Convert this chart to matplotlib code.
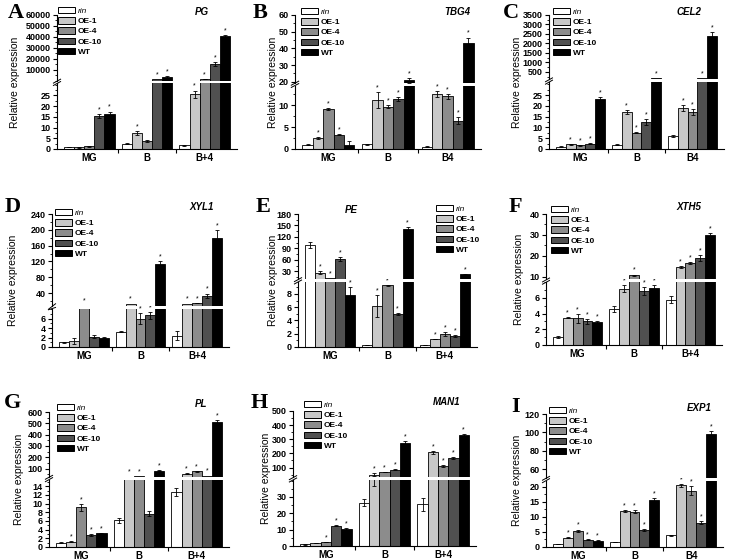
import matplotlib
matplotlib.use('Agg')
from matplotlib import pyplot as plt
from matplotlib.patches import Patch
from matplotlib.ticker import AutoMinorLocator, FixedLocator
import numpy as np

plt.rcParams['font.family'] = ['Liberation Sans', 'DejaVu Sans']

series = ['rin', 'OE-1', 'OE-4', 'OE-10', 'WT']
colors = ['white', '#c8c8c8', '#8c8c8c', '#505050', 'black']
groups_plus = ['MG', 'B', 'B+4']
groups_b4 = ['MG', 'B', 'B4']

# rows = rin, OE-1, OE-4, OE-10, WT ; columns = MG, B, B+4 (B4)
pg_vals = [[1.0, 2.5, 1.8], [0.8, 7.5, 25.5], [1.2, 3.8, 1500], [15.5, 1000, 15000], [16.2, 3000, 40500]]
pg_err = [[0.1, 0.2, 0.2], [0.1, 1.0, 1.8], [0.1, 0.5, 100], [0.8, 100, 1800], [1.3, 800, 1500]]
pg_star = [[0, 0, 0], [0, 1, 1], [0, 0, 1], [1, 1, 1], [1, 1, 1]]

tbg4_vals = [[1.0, 1.1, 0.5], [2.5, 11.2, 12.6], [9.1, 9.7, 12.0], [3.3, 11.4, 6.5], [0.8, 20.8, 43.5]]
tbg4_err = [[0.1, 0.1, 0.1], [0.15, 1.9, 0.7], [0.15, 0.3, 0.6], [0.15, 0.5, 0.7], [1.0, 1.5, 3.0]]
tbg4_star = [[0, 0, 0], [1, 1, 1], [1, 1, 1], [1, 1, 1], [0, 1, 1]]

cel2_vals = [[1.0, 2.0, 6.0], [2.2, 17.2, 19.0], [1.8, 7.5, 17.2], [2.5, 12.5, 150], [23.0, 170, 2380]]
cel2_err = [[0.2, 0.1, 0.3], [0.2, 0.8, 1.2], [0.2, 0.2, 1.5], [0.2, 1.3, 10], [1.0, 10, 200]]
cel2_star = [[0, 0, 0], [1, 1, 1], [1, 1, 1], [1, 1, 1], [1, 1, 1]]

xyl1_vals = [[1.0, 3.2, 2.4], [1.3, 13, 13], [9.5, 6.0, 15], [2.2, 6.7, 33], [2.0, 113, 180]]
xyl1_err = [[0.1, 0.1, 1.0], [0.6, 1, 1], [0.3, 1.2, 1], [0.3, 0.7, 6], [0.1, 7, 20]]
xyl1_star = [[0, 0, 0], [0, 1, 1], [1, 1, 1], [0, 1, 1], [0, 1, 1]]

pe_vals = [[100, 0.3, 0.3], [27, 6.2, 1.2], [12, 9.3, 1.9], [62, 5.0, 1.6], [7.8, 142, 22]]
pe_err = [[8, 0.05, 0.05], [3, 1.7, 0.05], [0.5, 0.1, 0.3], [6, 0.1, 0.15], [1.2, 5, 2]]
pe_star = [[0, 0, 0], [1, 1, 1], [1, 1, 1], [1, 1, 1], [1, 1, 1]]

xth5_vals = [[1.0, 4.6, 5.8], [3.5, 7.2, 14.5], [3.4, 10.6, 16.5], [3.0, 6.9, 19.0], [2.9, 7.3, 29.8]]
xth5_err = [[0.1, 0.35, 0.4], [0.1, 0.4, 0.4], [0.6, 0.4, 0.5], [0.35, 0.5, 1.5], [0.1, 0.4, 1.0]]
xth5_star = [[0, 0, 0], [1, 1, 1], [1, 1, 1], [1, 1, 1], [1, 1, 1]]

pl_vals = [[1.0, 6.1, 12.7], [1.2, 30, 55], [9.1, 32, 75], [2.7, 7.7, 37], [3.2, 80, 510]]
pl_err = [[0.1, 0.5, 0.9], [0.15, 2, 3], [0.7, 2, 3], [0.2, 0.5, 2], [0.1, 4, 20]]
pl_star = [[0, 0, 0], [1, 1, 1], [1, 1, 1], [1, 0, 1], [1, 1, 1]]

man1_vals = [[1.0, 26.5, 25.5], [1.8, 49, 208], [2.5, 68, 110], [12.3, 86, 165], [10.5, 272, 330]]
man1_err = [[0.1, 2.3, 4], [0.1, 12, 10], [0.2, 3, 8], [0.3, 5, 8], [0.4, 15, 5]]
man1_star = [[0, 0, 0], [0, 1, 1], [1, 1, 1], [1, 1, 1], [1, 1, 1]]

exp1_vals = [[1.0, 1.6, 3.9], [3.1, 11.9, 20.4], [5.4, 11.7, 18.6], [2.4, 5.7, 8.1], [2.1, 15.5, 98]]
exp1_err = [[0.05, 0.1, 0.1], [0.2, 0.3, 0.5], [0.4, 0.5, 1.5], [0.1, 0.3, 0.5], [0.1, 0.8, 4]]
exp1_star = [[0, 0, 0], [1, 1, 1], [1, 1, 1], [1, 1, 1], [1, 1, 1]]

W, H = 729, 560

# layout, all in pixels of the output image
panels = [
    dict(letter='A', gene='PG', vals=pg_vals, err=pg_err, star=pg_star, groups=groups_plus,
         box=(57, 237, 15, 149), split=0.50, lo=(0, 30.6), hi=(0, 60000),
         lo_ticks=[0, 5, 10, 15, 20, 25], hi_ticks=range(10000, 60001, 10000),
         leg=(58, 7), title=(202, 12), let=(8, 13), ylab=15),
    dict(letter='B', gene='TBG4', vals=tbg4_vals, err=tbg4_err, star=tbg4_star, groups=groups_b4,
         box=(295, 481, 15, 149), split=0.485, lo=(0, 14.5), hi=(19.5, 60),
         lo_ticks=[0, 5, 10], hi_ticks=range(20, 61, 10),
         leg=(301, 8), title=(457, 12), let=(253, 13), ylab=273),
    dict(letter='C', gene='CEL2', vals=cel2_vals, err=cel2_err, star=cel2_star, groups=groups_b4,
         box=(549, 724, 15, 149), split=0.51, lo=(0, 31), hi=(115, 3500),
         lo_ticks=[0, 5, 10, 15, 20, 25], hi_ticks=range(500, 3501, 500),
         leg=(553, 8), title=(689, 12), let=(503, 13), ylab=517),
    dict(letter='D', gene='XYL1', vals=xyl1_vals, err=xyl1_err, star=xyl1_star, groups=groups_plus,
         box=(52, 229, 214, 347), split=0.30, lo=(0, 8.1), hi=(8.5, 240),
         lo_ticks=[0, 2, 4, 6], hi_ticks=range(40, 241, 40),
         leg=(55, 209), title=(202, 207), let=(5, 207), ylab=13),
    dict(letter='E', gene='PE', vals=pe_vals, err=pe_err, star=pe_star, groups=groups_plus,
         box=(298, 477, 214, 347), split=0.50, lo=(0, 9.8), hi=(10, 180),
         lo_ticks=[0, 2, 4, 6, 8], hi_ticks=range(30, 181, 30),
         leg=(436, 205), title=(351, 210), let=(256, 207), ylab=273),
    dict(letter='F', gene='XTH5', vals=xth5_vals, err=xth5_err, star=xth5_star, groups=groups_plus,
         box=(546, 722, 214, 345), split=0.49, lo=(0, 8), hi=(8.7, 40),
         lo_ticks=[0, 2, 4, 6], hi_ticks=range(10, 41, 10),
         leg=(551, 206), title=(689, 207), let=(509, 207), ylab=519),
    dict(letter='G', gene='PL', vals=pl_vals, err=pl_err, star=pl_star, groups=groups_plus,
         box=(49, 229, 412, 547), split=0.51, lo=(0, 15.5), hi=(28, 600),
         lo_ticks=[0, 2, 4, 6, 8, 10, 12, 14], hi_ticks=range(100, 601, 100),
         leg=(57, 404), title=(201, 404), let=(4, 403), ylab=19),
    dict(letter='H', gene='MAN1', vals=man1_vals, err=man1_err, star=man1_star, groups=groups_plus,
         box=(293, 476, 411, 546), split=0.50, lo=(0, 40.4), hi=(33, 500),
         lo_ticks=[0, 10, 20, 30], hi_ticks=range(100, 501, 100),
         leg=(304, 401), title=(447, 402), let=(251, 403), ylab=266),
    dict(letter='I', gene='EXP1', vals=exp1_vals, err=exp1_err, star=exp1_star, groups=groups_b4,
         box=(546, 723, 414, 547), split=0.51, lo=(0, 22), hi=(51, 120),
         lo_ticks=[0, 5, 10, 15, 20], hi_ticks=range(60, 121, 20),
         leg=(549, 407), title=(699, 408), let=(511, 407), ylab=517),
]


def style_axis(ax):
    ax.spines['top'].set_visible(False)
    ax.spines['right'].set_visible(False)
    for s in ax.spines.values():
        s.set_linewidth(0.8)
    ax.tick_params(axis='y', direction='out', length=3, width=0.8, labelsize=6.5, pad=1.5)
    ax.tick_params(axis='y', which='minor', length=1.5, width=0.6)
    for lab in ax.get_yticklabels():
        lab.set_fontweight('bold')


def draw_panel(fig, p):
    x0, x1, y0, y1 = p['box']
    total = y1 - y0
    gap = 3
    hb = total * p['split'] - gap / 2
    ht = total * (1 - p['split']) - gap / 2
    ax_b = fig.add_axes([x0 / W, 1 - y1 / H, (x1 - x0) / W, hb / H])
    ax_t = fig.add_axes([x0 / W, 1 - (y0 + ht) / H, (x1 - x0) / W, ht / H])

    x = np.arange(3)
    bw = 0.175
    lo_max = p['lo'][1]
    hi_min, hi_max = p['hi']
    span = hi_max - hi_min
    # bars in the upper segment start well below its lower limit so no edge shows
    base = hi_min - span
    for i in range(5):
        xs = x + (i - 2) * bw
        v = np.array(p['vals'][i], dtype=float)
        e = np.array(p['err'][i], dtype=float)
        ax_b.bar(xs, v, bw, color=colors[i], edgecolor='black', linewidth=0.6, zorder=2)
        ax_b.errorbar(xs, v, yerr=e, fmt='none', ecolor='black', elinewidth=0.6,
                      capsize=1.5, capthick=0.6, zorder=3)
        up = v > hi_min + 0.005 * span
        if up.any():
            ax_t.bar(xs[up], v[up] - base, bw, bottom=base, color=colors[i],
                     edgecolor='black', linewidth=0.6, zorder=2)
        show_err = v > hi_min + 0.02 * span
        if show_err.any():
            ax_t.errorbar(xs[show_err], v[show_err], yerr=e[show_err], fmt='none',
                          ecolor='black', elinewidth=0.6, capsize=1.5, capthick=0.6, zorder=3)
        for j in range(3):
            if p['star'][i][j]:
                top = v[j] + e[j]
                ax = ax_t if top > lo_max else ax_b
                ax.annotate('*', (xs[j], top), xytext=(0, 0.5), textcoords='offset points',
                            ha='center', va='bottom', fontsize=5, annotation_clip=False,
                            zorder=4)

    ax_b.set_ylim(*p['lo'])
    ax_t.set_ylim(hi_min, hi_max)
    ax_b.set_xlim(-0.56, 2.56)
    ax_t.set_xlim(-0.56, 2.56)
    ax_b.yaxis.set_major_locator(FixedLocator(list(p['lo_ticks'])))
    ax_b.yaxis.set_minor_locator(AutoMinorLocator(2))
    ax_t.yaxis.set_major_locator(FixedLocator(list(p['hi_ticks'])))
    ax_t.yaxis.set_minor_locator(AutoMinorLocator(2))

    style_axis(ax_b)
    style_axis(ax_t)
    ax_t.spines['bottom'].set_visible(False)
    ax_t.set_xticks([])

    ax_b.set_xticks(x)
    ax_b.set_xticklabels(p['groups'], fontsize=7, fontweight='bold')
    ax_b.tick_params(axis='x', which='major', length=0, pad=3)
    ax_b.set_xticks([0.5, 1.5], minor=True)
    ax_b.tick_params(axis='x', which='minor', length=3, width=0.8)

    # break marks on the left spine
    kw = dict(color='black', lw=0.7, clip_on=False)
    ax_b.plot([-0.02, 0.02], [1 - 0.03, 1 + 0.03], transform=ax_b.transAxes, **kw)
    ax_t.plot([-0.02, 0.02], [-0.04, 0.02], transform=ax_t.transAxes, **kw)

    handles = [Patch(facecolor=c, edgecolor='black', linewidth=0.7) for c in colors]
    lx, ly = p['leg']
    leg = fig.legend(handles, series, loc='upper left', bbox_to_anchor=(lx / W, 1 - ly / H),
                     frameon=False, prop=dict(size=6, weight='bold'), handlelength=2.0,
                     handleheight=0.8, labelspacing=0.25, handletextpad=0.35,
                     borderpad=0, borderaxespad=0)
    leg.get_texts()[0].set_style('italic')
    leg.get_texts()[0].set_fontweight('normal')

    tx, ty = p['title']
    fig.text(tx / W, 1 - ty / H, p['gene'], ha='center', va='center', fontsize=7,
             fontweight='bold', style='italic')
    lx, ly = p['let']
    fig.text(lx / W, 1 - ly / H, p['letter'], ha='left', va='center', fontsize=16,
             fontweight='bold', family='Liberation Serif')
    fig.text(p['ylab'] / W, 1 - (y0 + y1) / 2 / H, 'Relative expression', rotation=90,
             ha='center', va='center', fontsize=7.5)


def main():
    fig = plt.figure(figsize=(W / 100, H / 100), dpi=100)
    for p in panels:
        draw_panel(fig, p)
    fig.savefig('out.png', dpi=100)


if __name__ == '__main__':
    main()
